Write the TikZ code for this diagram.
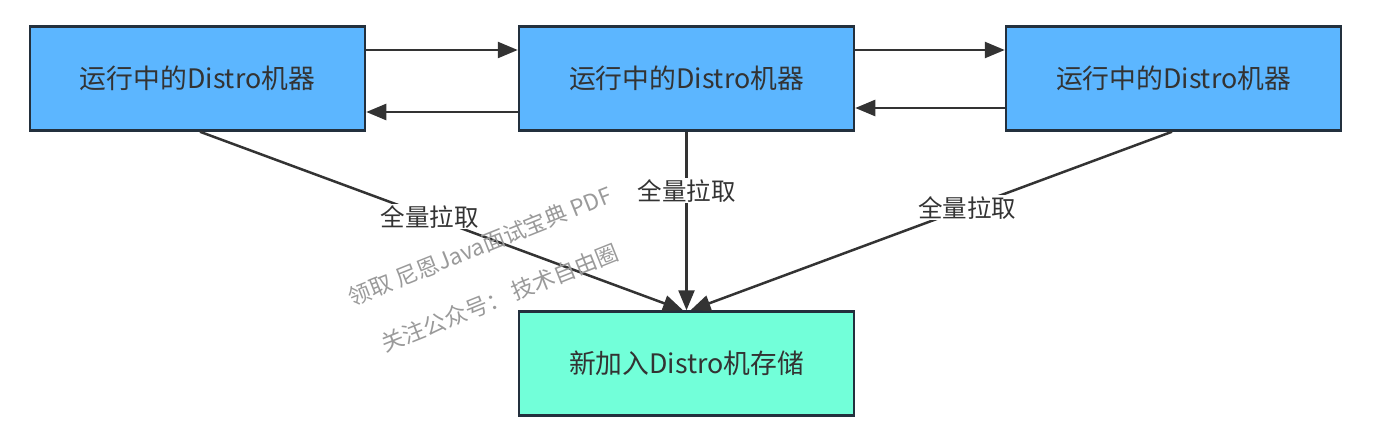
\documentclass[tikz,border=0pt]{standalone}
\usepackage{fontspec}
\setmainfont{Noto Sans CJK SC}
\usetikzlibrary{arrows.meta}
\definecolor{boxblue}{HTML}{5CB6FF}
\definecolor{boxgreen}{HTML}{72FFD9}
\definecolor{edgecol}{HTML}{23303D}
\definecolor{txtcol}{HTML}{333333}
\definecolor{wmcol}{HTML}{9A9A9A}
\begin{document}
\begin{tikzpicture}[x=1pt,y=-1pt,
  machine/.style={draw=edgecol,line width=2.5pt,fill=boxblue,minimum width=335pt,minimum height=104pt,inner sep=0pt,text=txtcol,font=\fontsize{26.8}{30}\selectfont},
  store/.style={machine,fill=boxgreen},
  arr/.style={draw=txtcol,line width=2.5pt,-{Triangle[length=20pt,width=16pt]}},
  lbl/.style={fill=white,text=txtcol,inner sep=1pt,font=\fontsize{24.5}{28}\selectfont},
  wm/.style={text=wmcol,font=\fontsize{22.5}{26}\selectfont,inner sep=0pt}]
\useasboundingbox (0,0) rectangle (1373,441);
\node[machine] (a) at (197.5,78.5) {运行中的Distro机器};
\node[machine] (b) at (686.5,78.5) {运行中的Distro机器};
\node[machine] (c) at (1173.5,78.5) {运行中的Distro机器};
\node[store] (d) at (686.5,363.5) {新加入Distro机存储};
\draw[arr] ([yshift=28.5pt]a.east) -- ([yshift=28.5pt]b.west);
\draw[arr] ([yshift=-33.5pt]b.west) -- ([yshift=-33.5pt]a.east);
\draw[arr] ([yshift=28.5pt]b.east) -- ([yshift=28.5pt]c.west);
\draw[arr] ([yshift=-29.5pt]c.west) -- ([yshift=-29.5pt]b.east);
\draw[arr] ([xshift=2.5pt]a.south) -- node[lbl,pos=0.476] (l1) {全量拉取} ([xshift=-3.5pt]d.north);
\draw[arr] (b.south) -- node[lbl,pos=0.33] (l2) {全量拉取} (d.north);
\draw[arr] ([xshift=-1.5pt]c.south) -- node[lbl,pos=0.425] (l3) {全量拉取} ([xshift=4pt]d.north);
\node[wm,rotate=21.8] (w1) at (480,246) {领取 尼恩Java面试宝典 PDF};
\node[wm,rotate=21.8] (w2) at (500,298) {关注公众号： 技术自由圈};
\end{tikzpicture}
\end{document}
